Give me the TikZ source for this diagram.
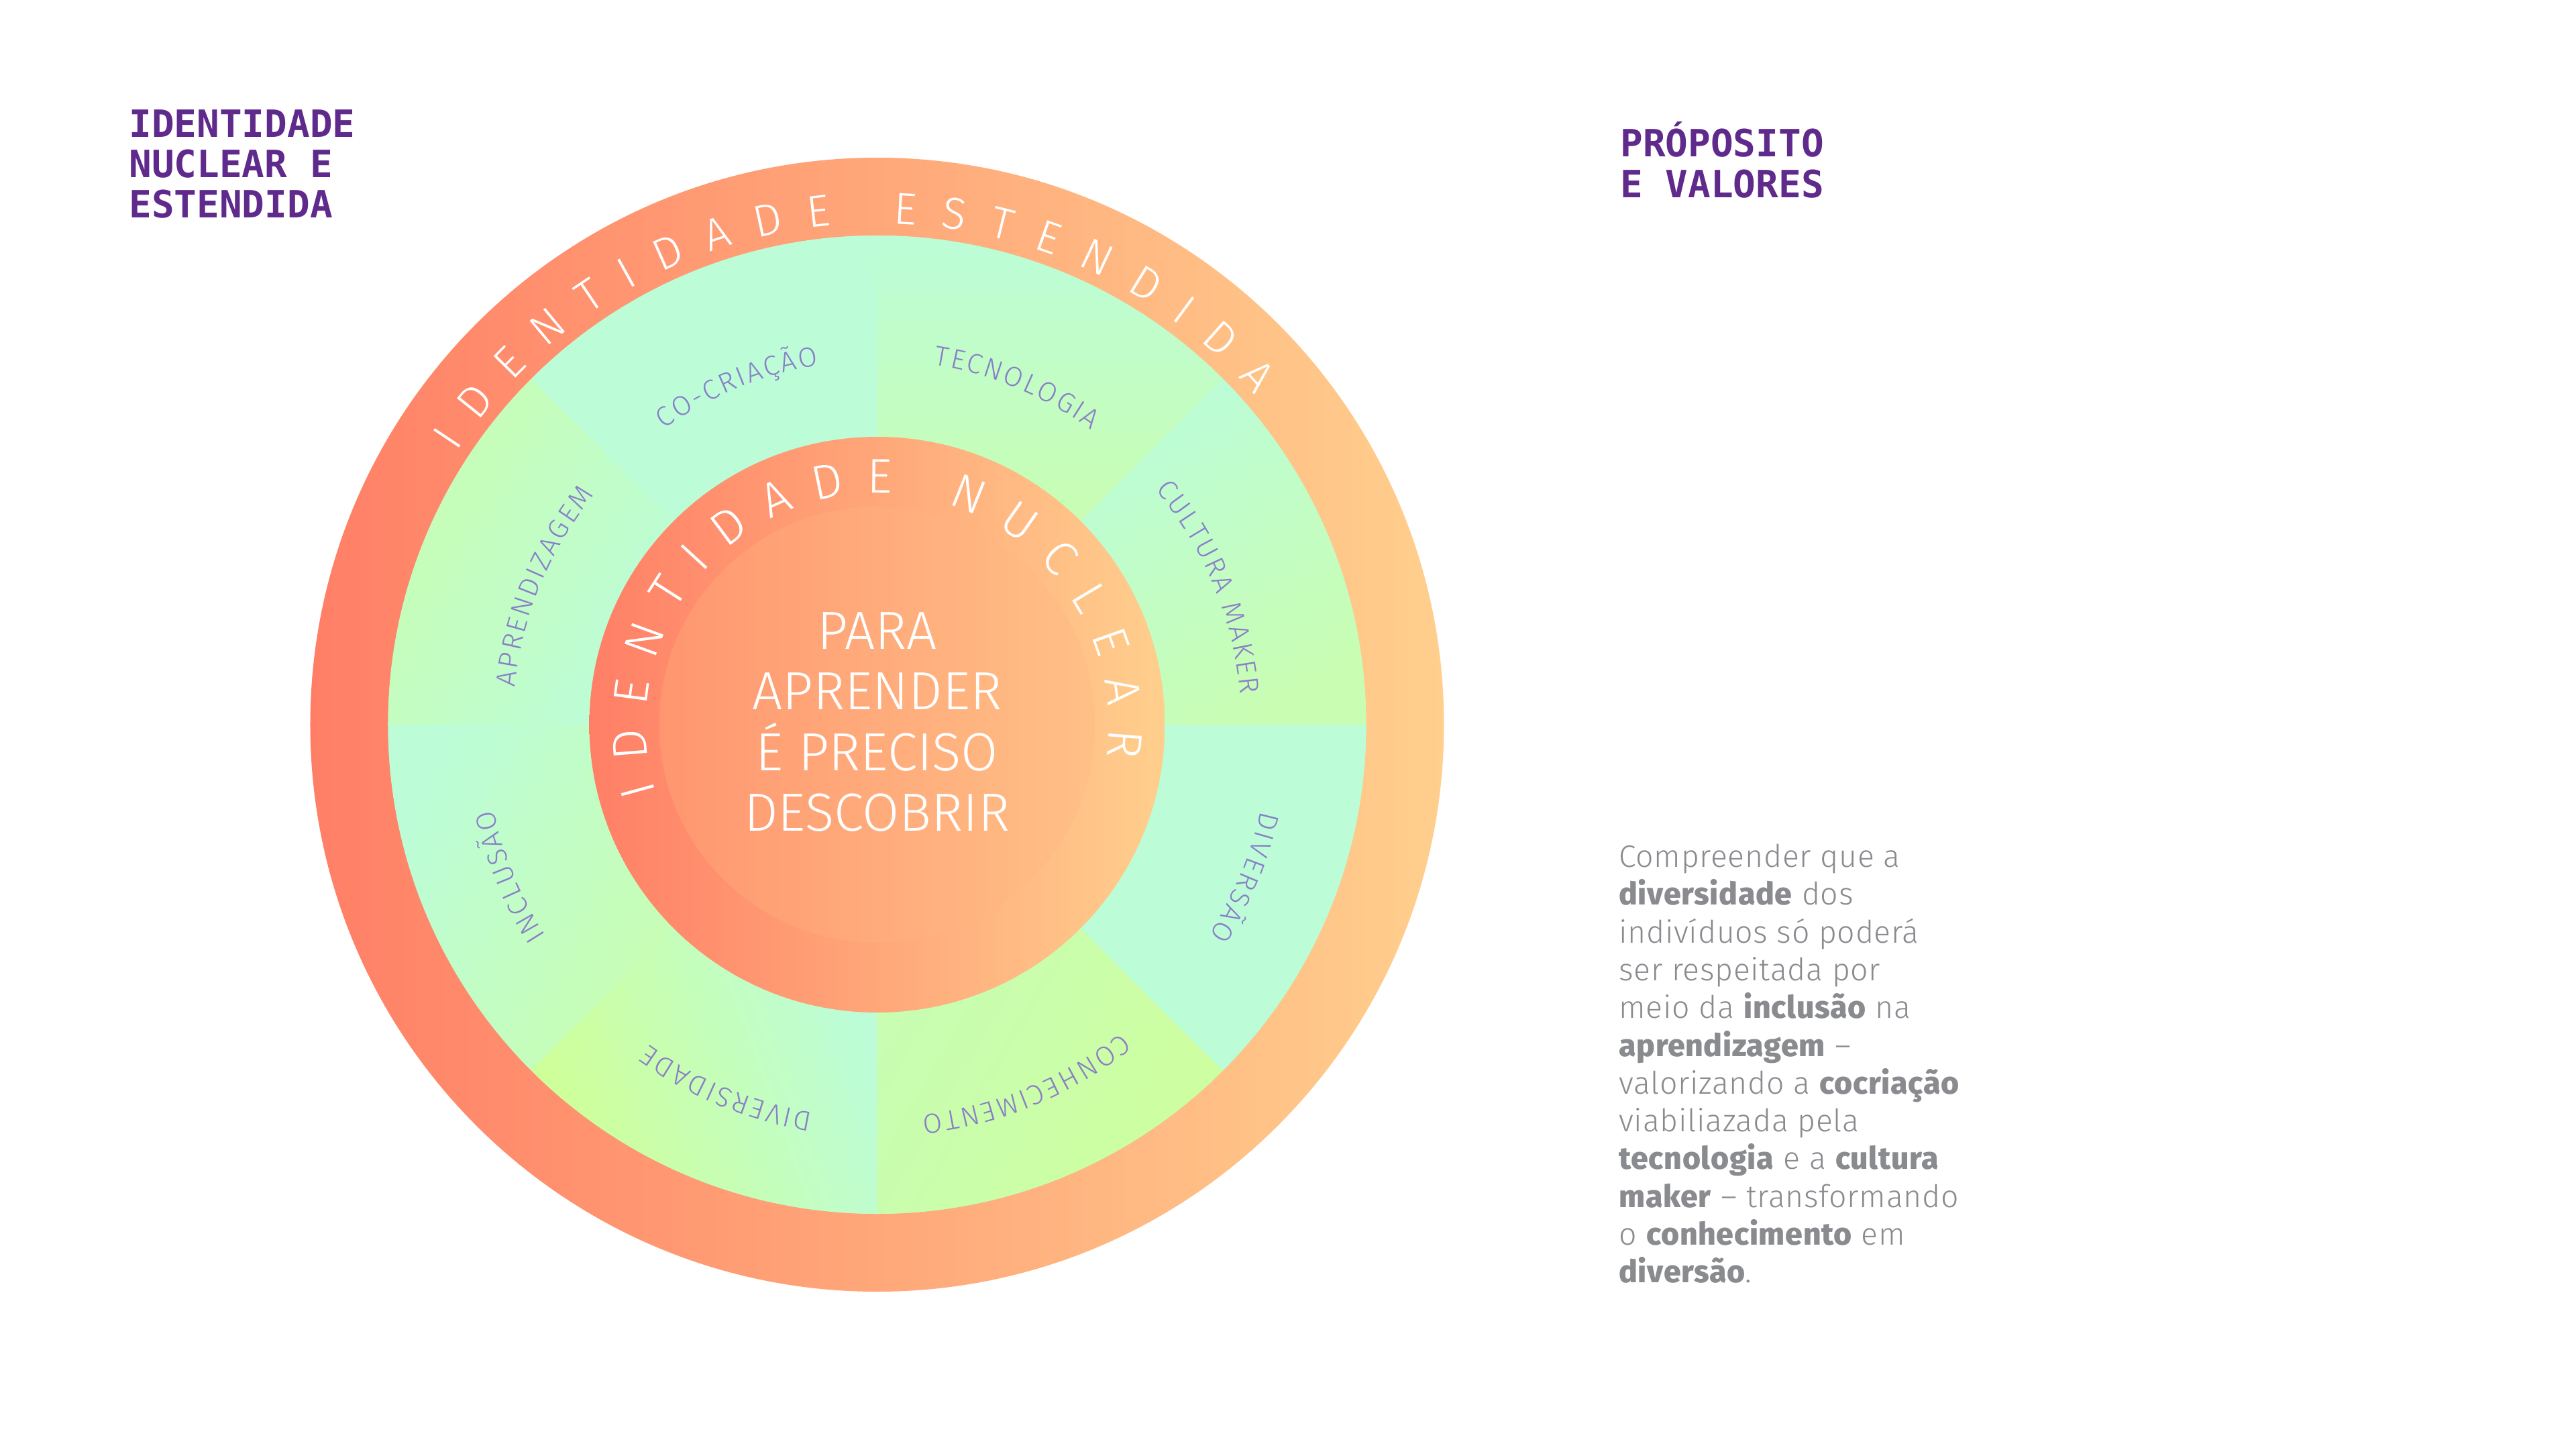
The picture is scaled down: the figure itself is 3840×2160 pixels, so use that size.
\documentclass[tikz,border=0pt]{standalone}
\usepackage{fontspec}
\IfFontExistsTF{Fira Sans Light}{\def\plight{Fira Sans Light}}{\def\plight{Fira Sans}}
\IfFontExistsTF{Fira Sans ExtraBold}{\def\pbold{Fira Sans ExtraBold}}{\def\pbold{Fira Sans Bold}}
\newfontfamily\flight{\plight}
\newfontfamily\fpara{\plight}[BoldFont={\pbold}, LetterSpace=1.5]
\newfontfamily\fmono{DejaVu Sans Mono}

\definecolor{coral}{RGB}{255,127,102}
\definecolor{peach}{RGB}{255,207,141}
\definecolor{corecl}{RGB}{255,150,112}
\definecolor{corecr}{RGB}{255,192,134}
\definecolor{mint}{RGB}{188,253,216}
\definecolor{lgreen}{RGB}{200,253,178}
\definecolor{ygreen}{RGB}{208,255,150}
\definecolor{purp}{RGB}{95,42,140}
\definecolor{lav}{RGB}{138,126,200}
\definecolor{txtgray}{RGB}{138,139,143}

\newdimen\atTot \newdimen\atCum \newdimen\atW
\newcount\atN
\newbox\atBox
\newcommand\atSet[2]{%
  \setbox\atBox=\hbox{\pgfinterruptpicture#1#2\endpgfinterruptpicture}%
}
\newcommand\atMeasure[2]{%
  \global\atTot=0pt \global\atN=0
  \foreach \ch in {#2}{%
    \atSet{#1}{\ch}%
    \global\advance\atTot by \wd\atBox
    \global\advance\atN by 1
    \ifnum\atN=1 \xdef\atFirst{\the\wd\atBox}\fi
    \xdef\atLast{\the\wd\atBox}%
  }%
  \xdef\atNum{\the\atN}%
}
% r, ref angle, tracking, offset, font, list, node options, name
\newcommand\atPlace[8]{%
  \global\atCum=0pt
  \foreach \ch [count=\ci] in {#6}{%
    \atSet{#5}{\ch}\atW=\wd\atBox
    \pgfmathsetmacro\atAng{#2 - (\atCum + 0.5*\atW - #4)/(#1*0.5)*57.2957795}%
    \node[#7, anchor=base, inner sep=0pt, outer sep=0pt, rotate=\atAng-90] (#8-\ci) at (\atAng:#1) {#5\ch};
    \global\advance\atCum by \atW
    \global\advance\atCum by #3pt
  }%
}
% r, first angle, last angle, font, list, options, name
\newcommand\arcFit[7]{%
  \atMeasure{#4}{#5}%
  \pgfmathsetmacro\atTrackv{((#2-#3)/57.2957795*(#1*0.5) - (\atTot - 0.5*\atFirst - 0.5*\atLast))/(\atNum-1)}%
  \pgfmathsetmacro\atOffv{0.5*\atFirst}%
  \atPlace{#1}{#2}{\atTrackv}{\atOffv}{#4}{#5}{#6}{#7}%
}
% r, center angle, tracking, font, list, options, name
\newcommand\arcCenter[7]{%
  \atMeasure{#4}{#5}%
  \pgfmathsetmacro\atOffv{0.5*(\atTot + (\atNum-1)*#3)}%
  \atPlace{#1}{#2}{#3}{\atOffv}{#4}{#5}{#6}{#7}%
}
\newcommand\seg[3]{%
  \shade[#3] (#1:429) -- (#1:729) arc[start angle=#1, end angle=#2, radius=729]
     -- (#2:429) arc[start angle=#2, end angle=#1, radius=429] -- cycle;}

\newcommand\ringfont{\flight\fontsize{33.4}{40}\selectfont}
\newcommand\nucfont{\flight\fontsize{36.3}{42}\selectfont}
\newcommand\labfont{\flight\fontsize{20.7}{24}\selectfont}

\tikzset{
  heading/.style={anchor=base west, inner sep=0pt, text=purp, font=\fmono\bfseries\fontsize{28}{30}\selectfont},
  centertext/.style={anchor=base, inner sep=0pt, text=white, font=\flight\fontsize{40}{48}\selectfont},
  ringtext/.style={text=white},
  labtext/.style={text=lav}
}

\begin{document}
\begin{tikzpicture}[x=0.5pt,y=0.5pt]
\useasboundingbox (-1307.5,-1080) rectangle (2532.5,1080);
\fill[white] (-1307.5,-1080) rectangle (2532.5,1080);

% outer ring
\shade[left color=coral, right color=peach] (0,0) circle[radius=845];
% green ring base
\fill[mint] (0,0) circle[radius=729];
% segments
\seg{0}{45}{top color=mint, bottom color=lgreen, shading angle=30}
\seg{45}{90}{top color=mint, bottom color=lgreen, shading angle=0}
\seg{90}{135}{top color=mint, bottom color=mint}
\seg{135}{180}{top color=lgreen, bottom color=mint, shading angle=60}
\seg{180}{225}{top color=mint, bottom color=lgreen, shading angle=60}
\seg{225}{270}{top color=ygreen, bottom color=mint, shading angle=110}
\seg{270}{315}{top color=ygreen!70!lgreen, bottom color=lgreen, shading angle=240}
\seg{315}{360}{top color=mint, bottom color=mint}
% inner ring and core
\shade[left color=coral, right color=peach] (0,0) circle[radius=429];
\shade[left color=corecl, right color=corecr] (0,0) circle[radius=325];

% ring texts
\arcFit{747}{146.3}{42.5}{\ringfont}{I,D,E,N,T,I,D,A,D,E,\ ,E,S,T,E,N,D,I,D,A}{ringtext}{ext}
\arcFit{345}{195.4}{-4.5}{\nucfont}{I,D,E,N,T,I,D,A,D,E,\ ,N,U,C,L,E,A,R}{ringtext}{nuc}

% segment labels
\arcCenter{543}{112.5}{1.5}{\labfont}{C,O,-,C,R,I,A,Ç,Ã,O}{labtext}{cocri}
\arcCenter{543}{67.5}{1.5}{\labfont}{T,E,C,N,O,L,O,G,I,A}{labtext}{tecno}
\arcCenter{543}{22.5}{1.5}{\labfont}{C,U,L,T,U,R,A,\ ,M,A,K,E,R}{labtext}{cultura}
\arcCenter{543}{157.5}{1.5}{\labfont}{A,P,R,E,N,D,I,Z,A,G,E,M}{labtext}{aprend}
\arcCenter{586}{202.5}{1.5}{\labfont}{I,N,C,L,U,S,Ã,O}{labtext}{inclu}
\arcCenter{586}{247.5}{1.5}{\labfont}{D,I,V,E,R,S,I,D,A,D,E}{labtext}{divers}
\arcCenter{586}{292.5}{1.5}{\labfont}{C,O,N,H,E,C,I,M,E,N,T,O}{labtext}{conhec}
\arcCenter{586}{337.5}{1.5}{\labfont}{D,I,V,E,R,S,Ã,O}{labtext}{diversao}

% center text
\node[centertext] (c1) at (0,113) {PARA};
\node[centertext] (c2) at (0,22.5) {APRENDER};
\node[centertext] (c3) at (0,-68) {É PRECISO};
\node[centertext] (c4) at (0,-158) {DESCOBRIR};

% headings
\node[heading] (h1) at (-1115.5,875) {IDENTIDADE};
\node[heading] (h2) at (-1115.5,815) {NUCLEAR E};
\node[heading] (h3) at (-1115.5,755) {ESTENDIDA};
\node[heading] (p1) at (1107.5,846) {PRÓPOSITO};
\node[heading] (p2) at (1107.5,785) {E VALORES};

% paragraph
\node[anchor=base west, inner sep=0pt, text=txtgray] (para) at (1105.5,-212.5)
 {\parbox[t]{330pt}{\fpara\fontsize{23.2}{28.15}\selectfont\raggedright
 Compreender que a\\
 \textbf{diversidade} dos\\
 indivíduos só poderá\\
 ser respeitada por\\
 meio da \textbf{inclusão} na\\
 \textbf{aprendizagem} –\\
 valorizando a \textbf{cocriação}\\
 viabiliazada pela\\
 \textbf{tecnologia} e a \textbf{cultura}\\
 \textbf{maker} – transformando\\
 o \textbf{conhecimento} em\\
 \textbf{diversão}.}};
\end{tikzpicture}
\end{document}
